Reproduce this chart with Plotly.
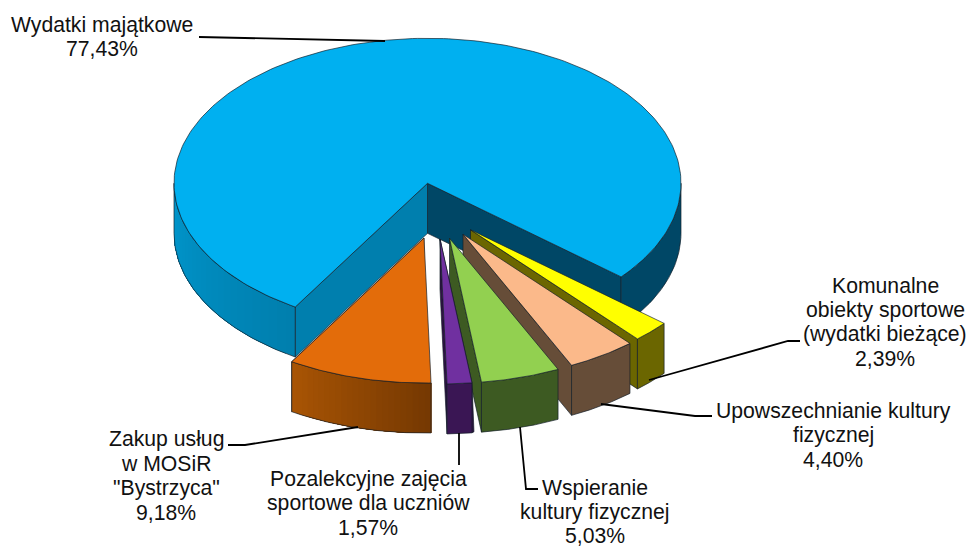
import math
import plotly.graph_objects as go

# ---- data (clockwise from the right-hand edge of the large slice)
categories = ["Komunalne obiekty sportowe (wydatki bieżące)",
              "Upowszechnianie kultury fizycznej",
              "Wspieranie kultury fizycznej",
              "Pozalekcyjne zajęcia sportowe dla uczniów",
              'Zakup usług w MOSiR "Bystrzyca"',
              "Wydatki majątkowe"]
values = [2.39, 4.40, 5.03, 1.57, 9.18, 77.43]
label_lines = [["Komunalne", "obiekty sportowe", "(wydatki bieżące)"],
               ["Upowszechnianie kultury", "fizycznej"],
               ["Wspieranie", "kultury fizycznej"],
               ["Pozalekcyjne zajęcia", "sportowe dla uczniów"],
               ["Zakup usług", "w MOSiR", '"Bystrzyca"'],
               ["Wydatki majątkowe"]]

# ---- styling / layout constants
W, H = 970, 546
CX, CY, A, B, DEPTH = 427.5, 183.3, 253.5, 145.0, 50
START = 40.2
FONT = "Liberation Sans"
FS = 21.2
EDGE = "rgba(20,30,40,0.85)"
offsets = [(43, 46.5), (35.5, 51), (22, 55), (12.5, 55.7), (-3.5, 54.7), (0, 0)]
top_col = ["#FFFF00", "#FBB98A", "#92D050", "#7030A0", "#E36C0A", "#00B0F0"]
side_col = ["#6B6600", "#664D38", "#3D5A22", "#2F1144", "#8A4303", "#004766"]
front_a = ["#6B6600", "#664D38", "#3D5A22", "#3A1654", "#A85404", None]
front_b = ["#6B6600", "#664D38", "#3D5A22", "#3A1654", "#763902", None]
MAIN_INNER_L = "#007FAE"
MAIN_ARC_L = ("#007FAE", "#0096CC")
text_pos = [  # centre x, first baseline y, line pitch
    (885, 293, 24.4), (833, 418.5, 24.2), (595, 495, 24.0),
    (368, 486.5, 24.3), (166, 446.5, 24.4), (102, 32, 24.0)]
leaders = [
    [(800, 341), (788, 341), (649, 380)],
    [(712, 416), (695, 416), (601, 404)],
    [(538, 489), (526, 489), (520, 427)],
    [(459, 465), (459, 433)],
    [(228, 445), (245, 445), (358, 427)],
    [(199, 37), (385, 41)],
]

fig = go.Figure()


def hex_rgb(c):
    return tuple(int(c[i:i + 2], 16) for i in (1, 3, 5))


def mix(c1, c2, t):
    a, b = hex_rgb(c1), hex_rgb(c2)
    return "rgb(%d,%d,%d)" % tuple(round(a[i] + (b[i] - a[i]) * t) for i in range(3))


def poly(pts, fill=None, line=True, name=None):
    xs = [p[0] for p in pts] + [pts[0][0]]
    ys = [p[1] for p in pts] + [pts[0][1]]
    fig.add_trace(go.Scatter(
        x=xs, y=ys, mode="lines", fill="toself" if fill else "none",
        fillcolor=fill, line=dict(color=EDGE if line else "rgba(0,0,0,0)", width=0.8),
        hoverinfo="skip", showlegend=False, name=name))


def arc(ox, oy, t0, t1, dy=0, n=60):
    return [(ox + A * math.cos(math.radians(t0 + (t1 - t0) * i / n)),
             oy + dy + B * math.sin(math.radians(t0 + (t1 - t0) * i / n))) for i in range(n + 1)]


def wall(ox, oy, t0, t1, c0, c1, strips=24):
    """Outer curved side between two angles, shaded from c0 to c1.
    Each strip runs to the far end and is painted over by the next, so no seams show."""
    for i in range(strips):
        a0 = t0 + (t1 - t0) * i / strips
        up = arc(ox, oy, a0, t1, 0, 30)
        lo = arc(ox, oy, t1, a0, DEPTH, 30)
        poly(up + lo, mix(c0, c1, i / max(strips - 1, 1)), line=False)
    poly(arc(ox, oy, t0, t1) + arc(ox, oy, t1, t0, DEPTH), None, True)


# angular extent of every slice, from the values
total = sum(values)
spans = []
t = START
for v in values:
    spans.append((t, t + v / total * 360))
    t = spans[-1][1]

# large slice first (it is the furthest back)
t0, t1 = spans[5]
p_r = arc(CX, CY, START, START, 0, 1)[0]
p_l = arc(CX, CY, t0, t0, 0, 1)[0]
poly([(CX, CY), p_r, (p_r[0], p_r[1] + DEPTH), (CX, CY + DEPTH)], side_col[5])
wall(CX, CY, 0, START, side_col[5], side_col[5], strips=1)
poly([(CX, CY), p_l, (p_l[0], p_l[1] + DEPTH), (CX, CY + DEPTH)], MAIN_INNER_L)
wall(CX, CY, t0, 180, MAIN_ARC_L[0], MAIN_ARC_L[1], strips=24)
poly([(CX, CY)] + arc(CX, CY, t0, t1, 0, 240), top_col[5], name=categories[5])

# exploded slices, back to front
for i in range(5):
    a0, a1 = spans[i]
    ox, oy = CX + offsets[i][0], CY + offsets[i][1]
    c_r = arc(ox, oy, a0, a0, 0, 1)[0]
    c_l = arc(ox, oy, a1, a1, 0, 1)[0]
    if i == 3:  # thin dark sliver on the right of the narrow slice
        poly([(ox, oy), c_r, (c_r[0] + 2, c_r[1] + DEPTH - 1), (c_r[0], c_r[1] + DEPTH)], side_col[i])
    poly([(ox, oy), c_l, (c_l[0], c_l[1] + DEPTH), (ox, oy + DEPTH)], side_col[i])
    wall(ox, oy, a1, a0, front_a[i], front_b[i], strips=24 if i == 4 else 1)
    poly([(ox, oy)] + arc(ox, oy, a0, a1), top_col[i], name=categories[i])

# leader lines
for pts in leaders:
    fig.add_trace(go.Scatter(x=[p[0] for p in pts], y=[p[1] for p in pts], mode="lines",
                             line=dict(color="#000", width=1.8), hoverinfo="skip", showlegend=False))

# labels, one annotation per text line
for lines, v, (tx, ty, pitch) in zip(label_lines, values, text_pos):
    all_lines = lines + [f"{v:.2f}".replace(".", ",") + "%"]
    for k, s in enumerate(all_lines):
        fig.add_annotation(x=tx, y=ty + k * pitch - FS * 0.35, text=s, showarrow=False,
                           xanchor="center", yanchor="middle",
                           font=dict(family=FONT, size=FS, color="#111"))

fig.update_layout(
    width=W, height=H, margin=dict(l=0, r=0, t=0, b=0),
    paper_bgcolor="white", plot_bgcolor="white", showlegend=False,
    xaxis=dict(range=[0, W], visible=False, fixedrange=True),
    yaxis=dict(range=[H, 0], visible=False, fixedrange=True),
)
fig.write_html("out.html", config={"displayModeBar": False, "responsive": False},
               post_script="document.body.style.margin='0';document.body.style.overflow='hidden';")
